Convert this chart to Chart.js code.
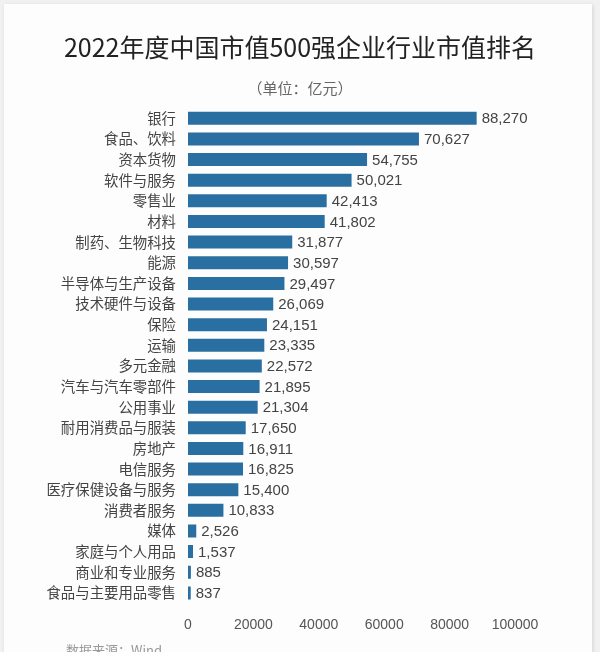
<!DOCTYPE html>
<html lang="zh-CN">
<head>
<meta charset="utf-8">
<title>2022年度中国市值500强企业行业市值排名</title>
<script src="https://cdn.jsdelivr.net/npm/chart.js@4/dist/chart.umd.min.js"></script>
<style>
  html, body { margin: 0; padding: 0; background: #f1f1f1; overflow: hidden; }
  .card {
    position: absolute; left: 4px; top: 4px; width: 588px; height: 700px;
    background: #fdfdfd; box-shadow: 1px 1px 4px rgba(0,0,0,0.12);
  }
  #wrap { position: absolute; left: 0; top: 0; width: 600px; height: 652px; }
  .source {
    position: absolute; left: 66px; top: 640px;
    font: 13px "Noto Sans CJK SC", sans-serif; color: #999;
  }
</style>
</head>
<body>
<div class="card"></div>
<div id="wrap"><canvas id="barChart"></canvas></div>
<div class="source">数据来源：Wind</div>
<script>
// 行业
const industries = [
  '银行', '食品、饮料', '资本货物', '软件与服务', '零售业', '材料',
  '制药、生物科技', '能源', '半导体与生产设备', '技术硬件与设备', '保险', '运输',
  '多元金融', '汽车与汽车零部件', '公用事业', '耐用消费品与服装', '房地产', '电信服务',
  '医疗保健设备与服务', '消费者服务', '媒体', '家庭与个人用品', '商业和专业服务', '食品与主要用品零售'
];
// 市值（亿元）
const marketValues = [
  88270, 70627, 54755, 50021, 42413, 41802,
  31877, 30597, 29497, 26069, 24151, 23335,
  22572, 21895, 21304, 17650, 16911, 16825,
  15400, 10833, 2526, 1537, 885, 837
];
const xTicks = [0, 20000, 40000, 60000, 80000, 100000];

const cjk = '"Noto Sans CJK SC", "Noto Sans", sans-serif';
const latin = '"Liberation Sans", Arial, sans-serif';

// 标题居中于整张图，而不是绘图区
const centeredTitle = {
  id: 'centeredTitle',
  afterDraw(chart) {
    const ctx = chart.ctx;
    const cx = chart.width / 2;
    ctx.save();
    ctx.textAlign = 'center';
    ctx.textBaseline = 'middle';
    ctx.fillStyle = '#222';
    ctx.font = '25px ' + cjk;
    ctx.fillText('2022年度中国市值500强企业行业市值排名', cx, 47);
    ctx.fillStyle = '#666';
    ctx.font = '15px ' + cjk;
    ctx.fillText('（单位：亿元）', cx, 88);
    ctx.restore();
  }
};

// 数值标签
const valueLabels = {
  id: 'valueLabels',
  afterDatasetsDraw(chart) {
    const ctx = chart.ctx;
    const meta = chart.getDatasetMeta(0);
    ctx.save();
    ctx.font = '15px ' + latin;
    ctx.fillStyle = '#444';
    ctx.textAlign = 'left';
    ctx.textBaseline = 'middle';
    meta.data.forEach((bar, i) => {
      ctx.fillText(marketValues[i].toLocaleString('en-US'), bar.x + 5, bar.y + 1);
    });
    ctx.restore();
  }
};

const barCtx = document.getElementById('barChart').getContext('2d');
new Chart(barCtx, {
  type: 'bar',
  data: {
    labels: industries,
    datasets: [{
      data: marketValues,
      backgroundColor: '#2a6fa1',
      borderWidth: 0,
      categoryPercentage: 1,
      barPercentage: 0.63
    }]
  },
  options: {
    indexAxis: 'y',
    responsive: true,
    maintainAspectRatio: false,
    animation: false,
    layout: { padding: { top: 108, left: 46, right: 85, bottom: 4 } },
    plugins: {
      legend: { display: false },
      tooltip: { enabled: false },
      title: { display: false }
    },
    scales: {
      x: {
        min: 0,
        max: 100000,
        afterBuildTicks: axis => { axis.ticks = xTicks.map(v => ({ value: v })); },
        grid: { display: false, drawTicks: false },
        border: { display: false },
        ticks: {
          color: '#555',
          font: { family: latin, size: 14 },
          padding: 14,
          callback: v => String(v)
        }
      },
      y: {
        afterFit: axis => { axis.width = 142; },
        grid: { display: false, drawTicks: false },
        border: { display: false },
        ticks: {
          color: '#444',
          font: { family: cjk, size: 14.4 },
          padding: 12,
          autoSkip: false
        }
      }
    }
  },
  plugins: [valueLabels, centeredTitle]
});
</script>
</body>
</html>
